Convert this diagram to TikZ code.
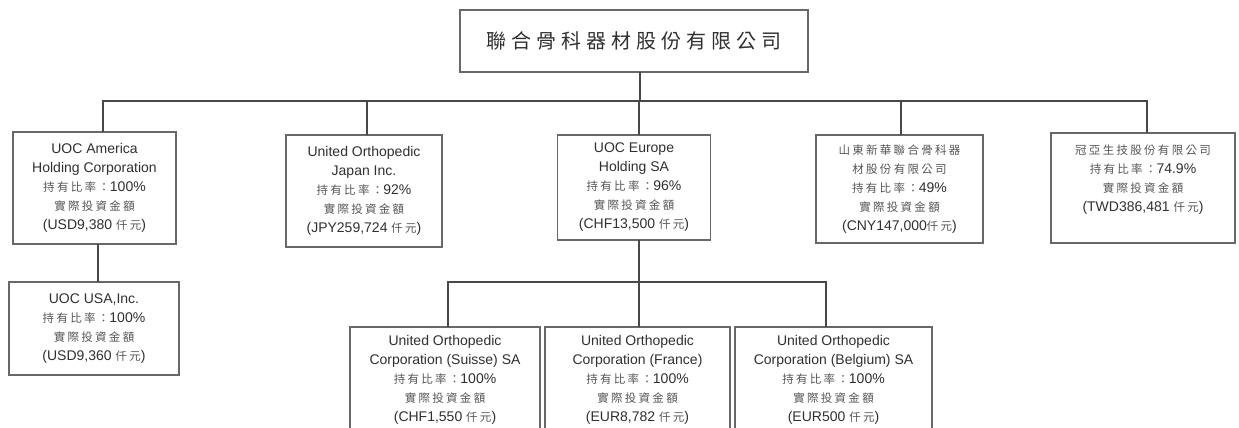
\documentclass[tikz,border=0pt]{standalone}
\usepackage{fontspec}
\setmainfont{Liberation Sans}
\newfontfamily\cjkfont[LetterSpace=20]{Noto Sans CJK TC}
\newfontfamily\cjktitlefont[LetterSpace=25]{Noto Sans CJK TC}
\definecolor{linegray}{HTML}{484848}
\definecolor{boxgray}{HTML}{686868}
\definecolor{engray}{HTML}{303030}
\definecolor{zhgray}{HTML}{555555}
\newcommand\cjt[1]{{\cjkfont\fontsize{11.5}{19}\selectfont\color{zhgray}#1}}
\tikzset{
  orgbox/.style={draw=boxgray, line width=1.4pt, fill=white, inner sep=0pt, outer sep=0pt,
    align=center, text=engray, font=\fontsize{14}{19}\selectfont},
  conn/.style={draw=linegray, line width=1.3pt}
}
\begin{document}
\begin{tikzpicture}[x=1pt,y=-1pt]
\useasboundingbox (0,0) rectangle (1239,428);
\fill[white] (0,0) rectangle (1239,428);
\clip (0,0) rectangle (1239,428);

% top company
\node[orgbox, minimum width=348pt, minimum height=62pt, text=engray] (top) at (634,41)
  {\cjktitlefont\fontsize{20}{24}\selectfont 聯合骨科器材股份有限公司};

% first level
\node[orgbox, minimum width=163pt, minimum height=112pt] (b1) at (94.5,188)
  {UOC America\\Holding Corporation\\\cjt{持有比率：}100\%\\\cjt{實際投資金額}\\(USD9,380 \cjt{仟元})};
\node[orgbox, minimum width=156pt, minimum height=112pt] (b2) at (364,191)
  {United Orthopedic\\Japan Inc.\\\cjt{持有比率：}92\%\\\cjt{實際投資金額}\\(JPY259,724 \cjt{仟元})};
\node[orgbox, minimum width=153pt, minimum height=105pt] (b3) at (634,187.5)
  {UOC Europe\\Holding SA\\\cjt{持有比率：}96\%\\\cjt{實際投資金額}\\(CHF13,500 \cjt{仟元})};
\node[orgbox, minimum width=167pt, minimum height=108pt] (b4) at (899.5,189)
  {\cjt{山東新華聯合骨科器}\\\cjt{材股份有限公司}\\\cjt{持有比率：}49\%\\\cjt{實際投資金額}\\(CNY147,000\cjt{仟元})};
\node[orgbox, minimum width=184pt, minimum height=110pt] (b5) at (1143,188) {};
\node[align=center, text=engray, font=\fontsize{14}{19}\selectfont, anchor=north, inner sep=0pt] (t5)
  at ([yshift=-12pt]b5.north)
  {\cjt{冠亞生技股份有限公司}\\\cjt{持有比率：}74.9\%\\\cjt{實際投資金額}\\(TWD386,481 \cjt{仟元})};

% second level
\node[orgbox, minimum width=170pt, minimum height=93pt] (c1) at (94,328.5)
  {UOC USA,Inc.\\\cjt{持有比率：}100\%\\\cjt{實際投資金額}\\(USD9,360 \cjt{仟元})};
\node[orgbox, minimum width=190pt, minimum height=106pt] (d1) at (445,380)
  {United Orthopedic\\Corporation (Suisse) SA\\\cjt{持有比率：}100\%\\\cjt{實際投資金額}\\(CHF1,550 \cjt{仟元})};
\node[orgbox, minimum width=185pt, minimum height=106pt] (d2) at (637.5,380)
  {United Orthopedic\\Corporation (France)\\\cjt{持有比率：}100\%\\\cjt{實際投資金額}\\(EUR8,782 \cjt{仟元})};
\node[orgbox, minimum width=197pt, minimum height=106pt] (d3) at (833.5,380)
  {United Orthopedic\\Corporation (Belgium) SA\\\cjt{持有比率：}100\%\\\cjt{實際投資金額}\\(EUR500 \cjt{仟元})};

% junctions
\coordinate (j0) at (640,101);
\coordinate (j1) at (639,282);

% connectors
\draw[conn] ([xshift=6pt]top.south) -- (j0);
\draw[conn] ([xshift=8.5pt]b1.north) |- (j0) -| ([xshift=4pt]b5.north);
\draw[conn] ([xshift=3pt]b2.north) -- ([xshift=3pt]b2.north |- j0);
\draw[conn] ([xshift=5pt]b3.north) -- ([xshift=5pt]b3.north |- j0);
\draw[conn] ([xshift=1.5pt]b4.north) -- ([xshift=1.5pt]b4.north |- j0);
\draw[conn] ([xshift=3.5pt]b1.south) -- ([xshift=3.5pt]b1.south |- c1.north);
\draw[conn] ([xshift=5pt]b3.south) -- (j1);
\draw[conn] ([xshift=3pt]d1.north) |- (j1) -| ([xshift=-7.5pt]d3.north);
\draw[conn] ([xshift=1.5pt]d2.north) -- ([xshift=1.5pt]d2.north |- j1);
\end{tikzpicture}
\end{document}
